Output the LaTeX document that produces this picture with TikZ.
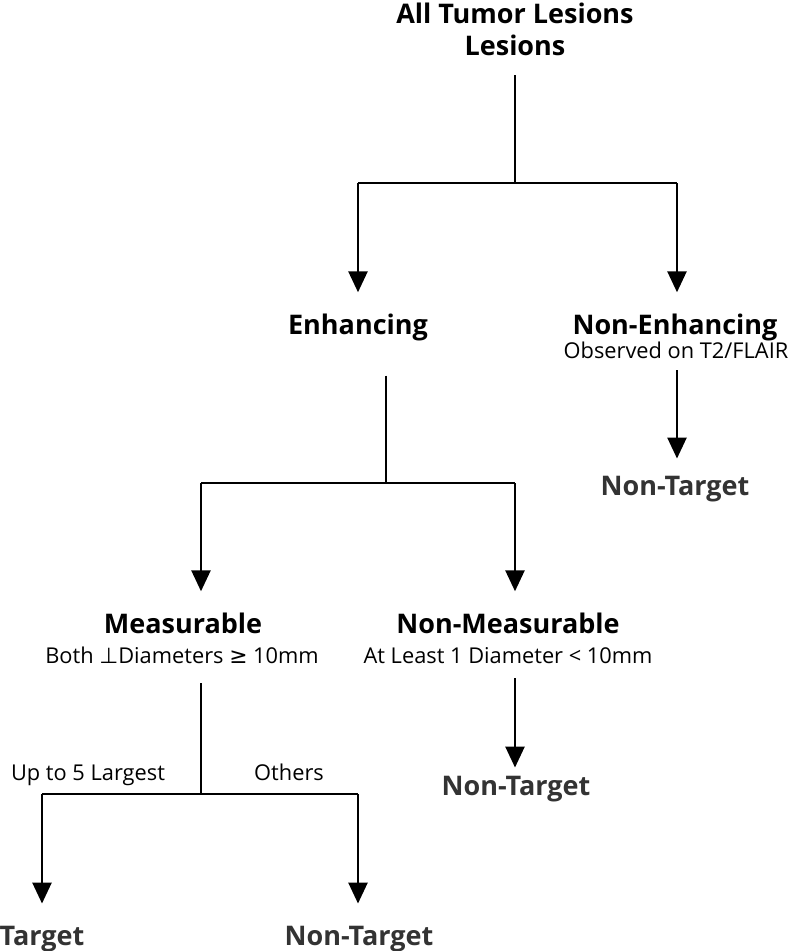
\documentclass[tikz,border=0pt]{standalone}
\usepackage{fontspec}
\setmainfont{Open Sans}
\newfontfamily\symfont{DejaVu Sans}
\usepackage{tikz}
\usetikzlibrary{arrows.meta}
\usepackage{xcolor}

\begin{document}
\begin{tikzpicture}[x=1pt, y=-1pt,
    head/.style={anchor=base, inner sep=0pt, font=\bfseries\fontsize{27}{29}\selectfont},
    sub/.style={anchor=base, inner sep=0pt, font=\fontsize{21.8}{24}\selectfont},
    leaf/.style={head, color=black!80},
    ln/.style={line width=2.6pt},
    arr/.style={line width=2.6pt, -{Triangle[width=19pt, length=21pt]}}]
    \useasboundingbox (0,0) rectangle (788,951);

    % labels
    \node[head] (all) at (515,23) {All Tumor Lesions};
    \node[head] (all2) at (515,55) {Lesions};
    \node[head] (enh) at (358,334) {Enhancing};
    \node[head] (nonenh) at (675,334) {Non-Enhancing};
    \node[sub] (obs) at (676,358) {Observed on T2/FLAIR};
    \node[leaf] (nt1) at (675,495) {Non-Target};
    \node[head] (meas) at (183,633) {Measurable};
    \node[sub] (both) at (182,663) {Both {\symfont ⊥}Diameters {\symfont ≥} 10mm};
    \node[head] (nonmeas) at (508,633) {Non-Measurable};
    \node[sub] (least) at (508,663) {At Least 1 Diameter < 10mm};
    \node[leaf] (nt2) at (516,795) {Non-Target};
    \node[sub] (up) at (88,780) {Up to 5 Largest};
    \node[sub] (oth) at (289,780) {Others};
    \node[leaf] (tgt) at (42,945) {Target};
    \node[leaf] (nt3) at (359,945) {Non-Target};

    % junctions
    \coordinate (a1) at (515,183);
    \coordinate (al) at (358,183);
    \coordinate (ar) at (677,183);
    \coordinate (b1) at (386,483);
    \coordinate (bl) at (201,483);
    \coordinate (br) at (515,483);
    \coordinate (c1) at (201,794);
    \coordinate (cl) at (42,794);
    \coordinate (cr) at (358,794);

    % connectors
    \draw[ln, shorten <=20pt] (all2.south) -- (a1);
    \draw[ln] (al) -- (ar);
    \draw[arr, shorten >=21pt] (al) -- (al |- enh.north);
    \draw[arr, shorten >=21pt] (ar) -- (ar |- nonenh.north);
    \draw[arr, shorten <=12pt, shorten >=17pt] (obs.south -| ar) -- (ar |- nt1.north);

    \draw[ln, shorten <=35pt] (enh.south -| b1) -- (b1);
    \draw[ln] (bl) -- (br);
    \draw[arr, shorten >=21pt] (bl) -- (bl |- meas.north);
    \draw[arr, shorten >=21pt] (br) -- (br |- nonmeas.north);
    \draw[arr, shorten <=15pt, shorten >=8pt] (least.south -| br) -- (br |- nt2.north);

    \draw[ln, shorten <=20pt] (both.south -| c1) -- (c1);
    \draw[ln] (cl) -- (cr);
    \draw[arr, shorten >=22pt] (cl) -- (cl |- tgt.north);
    \draw[arr, shorten >=22pt] (cr) -- (cr |- nt3.north);
\end{tikzpicture}
\end{document}
